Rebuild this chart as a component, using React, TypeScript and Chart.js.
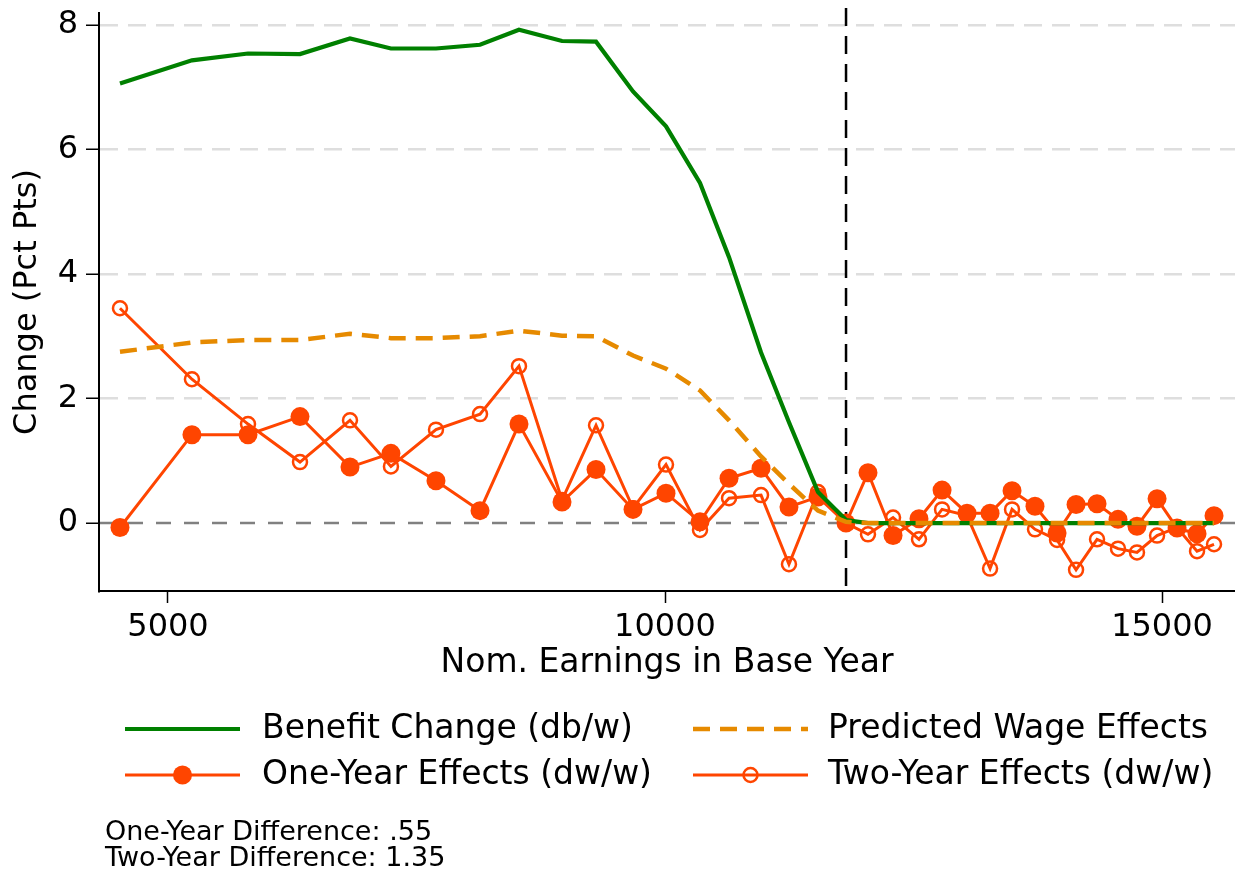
import { useEffect, useRef } from "react";
import { Chart, registerables } from "chart.js";

Chart.register(...registerables);

// ---- data ----
const earnings = [4517, 5241, 5805, 6328, 6831, 7243, 7696, 8139, 8531, 8964, 9306, 9678, 10010, 10352, 10644, 10966, 11247, 11539, 11821, 12042, 12294, 12555, 12787, 13038, 13270, 13491, 13722, 13944, 14135, 14346, 14557, 14748, 14950, 15151, 15352, 15523];
const benefitChange = [7.06, 7.43, 7.54, 7.53, 7.78, 7.62, 7.62, 7.68, 7.92, 7.74, 7.73, 6.93, 6.37, 5.46, 4.27, 2.74, 1.62, 0.5, 0.05, 0, 0, 0, 0, 0, 0, 0, 0, 0, 0, 0, 0, 0, 0, 0, 0, 0];
const predictedWage = [2.75, 2.9, 2.94, 2.94, 3.04, 2.97, 2.97, 3.0, 3.09, 3.01, 3.0, 2.69, 2.48, 2.13, 1.65, 1.07, 0.63, 0.2, 0.02, 0, 0, 0, 0, 0, 0, 0, 0, 0, 0, 0, 0, 0, 0, 0, 0, 0];
const oneYear = [-0.07, 1.42, 1.42, 1.71, 0.9, 1.12, 0.68, 0.2, 1.59, 0.34, 0.86, 0.22, 0.48, 0.02, 0.72, 0.88, 0.26, 0.42, 0.0, 0.81, -0.2, 0.07, 0.53, 0.16, 0.16, 0.52, 0.27, -0.16, 0.3, 0.31, 0.06, -0.05, 0.39, -0.08, -0.17, 0.12];
const twoYear = [3.45, 2.31, 1.59, 0.98, 1.65, 0.91, 1.5, 1.75, 2.52, 0.37, 1.57, 0.24, 0.94, -0.11, 0.4, 0.45, -0.66, 0.5, 0.0, -0.18, 0.09, -0.26, 0.22, 0.12, -0.73, 0.22, -0.1, -0.27, -0.75, -0.26, -0.41, -0.47, -0.2, -0.07, -0.45, -0.34];

const xTicks = [5000, 10000, 15000];
const yTicks = [0, 2, 4, 6, 8];
const cutoff = 11821;

const seriesLabels = [
  "Benefit Change (db/w)",
  "Predicted Wage Effects",
  "One-Year Effects (dw/w)",
  "Two-Year Effects (dw/w)",
];
const notes = ["One-Year Difference: .55", "Two-Year Difference: 1.35"];
const xTitle = "Nom. Earnings in Base Year";
const yTitle = "Change (Pct Pts)";

// ---- styles ----
const GREEN = "#008000";
const ORANGE = "#E68A00";
const RED = "#FF4500";
const FONT = "'DejaVu Sans', sans-serif";

const toXY = (ys: number[]) => earnings.map((x, i) => ({ x, y: ys[i] }));

const refLinesPlugin = {
  id: "refLines",
  beforeDatasetsDraw(chart: any) {
    const { ctx, chartArea, scales } = chart;
    const y0 = scales.y.getPixelForValue(0);
    const xc = scales.x.getPixelForValue(cutoff);
    ctx.save();
    ctx.strokeStyle = "#808080";
    ctx.lineWidth = 2.5;
    ctx.setLineDash([15, 13]);
    ctx.beginPath();
    ctx.moveTo(chartArea.left + 1, y0);
    ctx.lineTo(chartArea.right, y0);
    ctx.stroke();
    ctx.strokeStyle = "#000000";
    ctx.lineWidth = 2.5;
    ctx.setLineDash([18, 10]);
    ctx.beginPath();
    ctx.moveTo(xc, chartArea.top - 5);
    ctx.lineTo(xc, chartArea.bottom);
    ctx.stroke();
    ctx.restore();
  },
};

const legendPlugin = {
  id: "customLegend",
  afterDraw(chart: any) {
    const { ctx } = chart;
    ctx.save();
    const rows = [729, 775];
    const cols = [
      { x1: 125, x2: 240, tx: 262 },
      { x1: 693, x2: 808, tx: 828 },
    ];
    const items = [
      { col: 0, row: 0, color: GREEN, width: 4.2, dash: [] as number[], marker: "none" },
      { col: 1, row: 0, color: ORANGE, width: 4.5, dash: [17, 10], marker: "none" },
      { col: 0, row: 1, color: RED, width: 3, dash: [] as number[], marker: "filled" },
      { col: 1, row: 1, color: RED, width: 3, dash: [] as number[], marker: "open" },
    ];
    items.forEach((it, i) => {
      const c = cols[it.col];
      const y = rows[it.row];
      ctx.strokeStyle = it.color;
      ctx.lineWidth = it.width;
      ctx.setLineDash(it.dash);
      ctx.beginPath();
      ctx.moveTo(c.x1, y);
      ctx.lineTo(c.x2, y);
      ctx.stroke();
      ctx.setLineDash([]);
      const mx = (c.x1 + c.x2) / 2;
      if (it.marker === "filled") {
        ctx.fillStyle = it.color;
        ctx.beginPath();
        ctx.arc(mx, y, 9.5, 0, Math.PI * 2);
        ctx.fill();
      } else if (it.marker === "open") {
        ctx.lineWidth = 2.5;
        ctx.beginPath();
        ctx.arc(mx, y, 7, 0, Math.PI * 2);
        ctx.stroke();
      }
      ctx.fillStyle = "#000000";
      ctx.font = `33px ${FONT}`;
      ctx.textBaseline = "middle";
      ctx.textAlign = "left";
      ctx.fillText(seriesLabels[i], c.tx, y);
    });
    ctx.font = `27px ${FONT}`;
    ctx.textBaseline = "alphabetic";
    ctx.fillText(notes[0], 105, 840);
    ctx.fillText(notes[1], 105, 866);
    ctx.restore();
  },
};

export default function App() {
  const ref = useRef<HTMLCanvasElement | null>(null);
  useEffect(() => {
    if (!ref.current) return;
    const chart = new Chart(ref.current, {
      type: "line",
      data: {
        datasets: [
          {
            label: seriesLabels[1],
            data: toXY(predictedWage),
            borderColor: ORANGE,
            borderWidth: 4.5,
            borderDash: [17, 10],
            pointRadius: 0,
            fill: false,
          },
          {
            label: seriesLabels[0],
            data: toXY(benefitChange),
            borderColor: GREEN,
            borderWidth: 4.2,
            pointRadius: 0,
            fill: false,
          },
          {
            label: seriesLabels[2],
            data: toXY(oneYear),
            borderColor: RED,
            borderWidth: 3,
            pointRadius: 9.5,
            pointBackgroundColor: RED,
            pointBorderColor: RED,
            pointBorderWidth: 0,
            fill: false,
          },
          {
            label: seriesLabels[3],
            data: toXY(twoYear),
            borderColor: RED,
            borderWidth: 3,
            pointRadius: 7,
            pointBackgroundColor: "rgba(0,0,0,0)",
            pointBorderColor: RED,
            pointBorderWidth: 2.5,
            fill: false,
          },
        ],
      },
      options: {
        responsive: false,
        animation: false,
        devicePixelRatio: 1,
        layout: { autoPadding: false, padding: { top: 13, right: 0, bottom: 183, left: 0 } },
        plugins: {
          legend: { display: false },
          tooltip: { enabled: false },
        },
        scales: {
          x: {
            type: "linear",
            min: 4306,
            max: 15734,
            afterBuildTicks: (scale: any) => {
              scale.ticks = xTicks.map((v) => ({ value: v }));
            },
            afterFit: (scale: any) => {
              scale.height = 99;
              scale.paddingLeft = 0;
              scale.paddingRight = 0;
            },
            ticks: {
              callback: (v: any) => String(v),
              font: { family: FONT, size: 32 },
              color: "#000000",
              padding: 5,
              maxRotation: 0,
              autoSkip: false,
            },
            grid: {
              display: true,
              drawOnChartArea: false,
              drawTicks: true,
              tickLength: 12,
              tickColor: "#000000",
              tickWidth: 1.5,
            },
            border: { display: true, color: "#000000", width: 2 },
            title: {
              display: true,
              text: xTitle,
              font: { family: FONT, size: 33 },
              color: "#000000",
              padding: { top: 0, bottom: 7 },
            },
          },
          y: {
            type: "linear",
            min: -1.09,
            max: 8.19,
            afterBuildTicks: (scale: any) => {
              scale.ticks = yTicks.map((v) => ({ value: v }));
            },
            afterFit: (scale: any) => {
              scale.width = 99;
              scale.paddingTop = 0;
              scale.paddingBottom = 0;
            },
            ticks: {
              callback: (v: any) => String(v),
              font: { family: FONT, size: 32 },
              color: "#000000",
              padding: 8,
            },
            grid: {
              display: true,
              drawOnChartArea: true,
              drawTicks: true,
              tickLength: 13,
              tickColor: "#000000",
              tickWidth: 1.5,
              lineWidth: 2.5,
              color: (c: any) => (c.tick && c.tick.value === 0 ? "rgba(0,0,0,0)" : "#DEDEDE"),
            },
            border: { display: true, color: "#000000", width: 2, dash: [18, 10] },
            title: {
              display: true,
              text: yTitle,
              font: { family: FONT, size: 32 },
              color: "#000000",
              padding: { top: 8, bottom: 0 },
            },
          },
        },
      },
      plugins: [refLinesPlugin, legendPlugin],
    } as any);
    return () => chart.destroy();
  }, []);
  return (
    <div style={{ position: "fixed", left: 0, top: 0, width: 1235, height: 873, background: "#fff" }}>
      <canvas ref={ref} width={1235} height={873} style={{ width: 1235, height: 873, display: "block" }} />
    </div>
  );
}
